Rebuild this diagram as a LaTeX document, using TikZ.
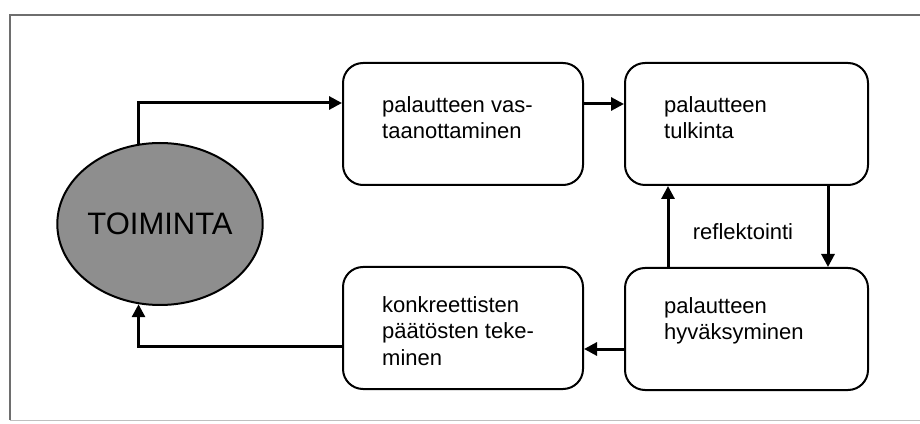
\documentclass[tikz,border=0pt]{standalone}
\usepackage{fontspec}
\setmainfont{Liberation Sans}
\usetikzlibrary{arrows.meta,shapes.geometric}
\definecolor{framegray}{RGB}{110,110,110}
\definecolor{ovalfill}{RGB}{142,142,142}
\tikzset{
  stepbox/.style={draw=black, line width=2pt, rounded corners=20pt,
    minimum width=240pt, minimum height=122pt, inner sep=0pt},
  boxtext/.style={anchor=north west, inner sep=0pt, align=left,
    font=\fontsize{22}{26.5}\selectfont},
  flow/.style={line width=3pt, -{Triangle[length=13pt,width=13pt]}},
}
\begin{document}
\begin{tikzpicture}[x=1pt,y=1pt]
  \useasboundingbox (0,0) rectangle (920,423);
  % outer frame
  \draw[framegray, line width=1.5pt] (920,408) -- (10,408) -- (10,3);
  \draw[black!25, line width=1pt] (10,3) -- (920,3);

  % central activity
  \node[ellipse, draw=black, line width=2pt, fill=ovalfill,
        minimum width=202pt, minimum height=162pt, inner sep=0pt,
        font=\fontsize{31}{36}\selectfont] (toim) at (160,199) {TOIMINTA};

  % process boxes
  \node[stepbox] (b1) at (463,299) {};
  \node[stepbox, minimum width=243pt] (b2) at (746.5,299) {};
  \node[stepbox] (b3) at (463,95) {};
  \node[stepbox, minimum width=243pt] (b4) at (746.5,94) {};

  \node[boxtext] (t1) at ([shift={(40,-34)}]b1.north west)
    {palautteen vas-\\taanottaminen};
  \node[boxtext] (t2) at ([shift={(40,-34)}]b2.north west)
    {palautteen\\tulkinta};
  \node[boxtext] (t3) at ([shift={(40,-30)}]b3.north west)
    {konkreettisten\\päätösten teke-\\minen};
  \node[boxtext] (t4) at ([shift={(40,-30)}]b4.north west)
    {palautteen\\hyväksyminen};

  \node[font=\fontsize{22}{26.5}\selectfont, inner sep=0pt] (refl)
    at (743,191) {reflektointi};

  % connectors
  \draw[flow] (toim.105) |- ([yshift=21pt]b1.west);
  \draw[flow] ([yshift=20pt]b1.east) -- ([yshift=20pt]b2.west);
  \draw[flow] ([xshift=81.5pt]b2.south) -- ([xshift=81.5pt]b2.south |- b4.north);
  \draw[flow] ([xshift=-78.5pt]b4.north) -- ([xshift=-78.5pt]b4.north |- b2.south);
  \draw[flow] ([yshift=-20pt]b4.west) -- ([yshift=-20pt]b4.west -| b3.east);
  \draw[flow] ([yshift=-18pt]b3.west) -| (toim.255);
\end{tikzpicture}
\end{document}
